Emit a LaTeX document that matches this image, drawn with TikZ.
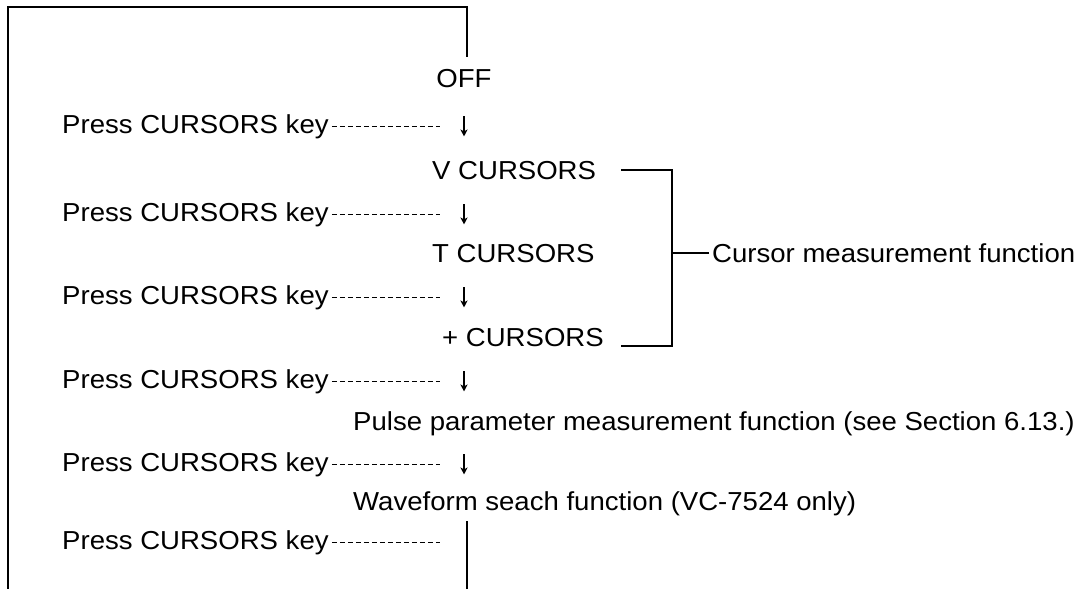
\documentclass[tikz,border=0pt]{standalone}
\usepackage{fontspec}
\setmainfont{Liberation Sans}[FakeStretch=1.06]
\usetikzlibrary{arrows.meta}

\begin{document}
\begin{tikzpicture}[
  x=1pt, y=1pt,
  every node/.style={inner sep=3pt,font=\fontsize{26}{30}\selectfont},
  loopline/.style={line width=1.8pt},
  bracket/.style={line width=1.7pt},
  keydash/.style={line width=1.5pt,dash pattern=on 5.5pt off 2.5pt},
  hold/.style={inner sep=0pt,minimum width=48pt,minimum height=20pt},
  stepar/.style={line width=1.4pt,-{Stealth[length=7pt,width=7pt,inset=2pt]}}
]
  \useasboundingbox (0,0) rectangle (1092,-589);

  % states down the spine
  \node[anchor=base] (off) at (464,-87) {OFF};
  \node[anchor=base west] (vc) at (429,-179) {V CURSORS};
  \node[anchor=base west] (tc) at (429,-262) {T CURSORS};
  \node[anchor=base west] (pc) at (439,-346) {+ CURSORS};
  \node[anchor=base west] (pulse) at (350,-430) {Pulse parameter measurement function (see Section 6.13.)};
  \node[anchor=base west] (wave) at (350,-510) {Waveform seach function (VC-7524 only)};
  \node[anchor=base west] (cmf) at (709,-262) {Cursor measurement function};

  % key presses
  \node[anchor=base west] (k1) at (59,-133) {Press CURSORS key};
  \node[anchor=base west] (k2) at (59,-221) {Press CURSORS key};
  \node[anchor=base west] (k3) at (59,-304) {Press CURSORS key};
  \node[anchor=base west] (k4) at (59,-388) {Press CURSORS key};
  \node[anchor=base west] (k5) at (59,-471) {Press CURSORS key};
  \node[anchor=base west] (k6) at (59,-549) {Press CURSORS key};

  \foreach \i in {1,...,5}{
    \node[hold] (a\i) at (k\i.east -| off) {};
    \draw[stepar] (a\i.north) -- (a\i.south);
    \draw[keydash] (k\i.east) -- (a\i.west);
  }
  \coordinate (e6) at (k6.east -| a5.west);
  \draw[keydash] (k6.east) -- (e6);

  % the loop back
  \coordinate (tl) at (8,-7);
  \coordinate (bl) at (8,-589);
  \coordinate (br) at (467,-589);
  \draw[loopline] ([yshift=9pt]off.north -| br) |- (tl) -- (bl);
  \draw[loopline] (br) -- ([yshift=-2pt]wave.south -| br);

  % bracket
  \coordinate (bx) at (672,0);
  \draw[bracket] ([xshift=22pt]vc.east) -- (vc.east -| bx) -- (pc.base east -| bx) -- ([xshift=14pt]pc.base east);
  \draw[bracket] (cmf.west) -- (cmf.west -| bx);
\end{tikzpicture}
\end{document}
